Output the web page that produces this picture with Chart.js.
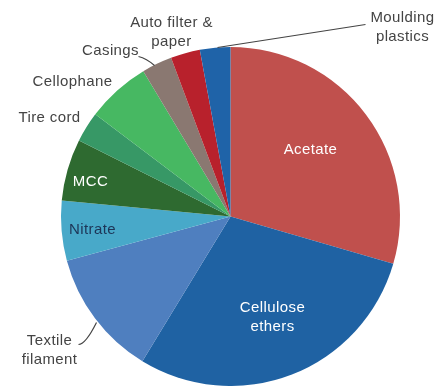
<!DOCTYPE html>
<html>
<head>
<meta charset="utf-8">
<script src="https://cdn.jsdelivr.net/npm/chart.js@4"></script>
<style>
  html, body { margin: 0; padding: 0; background: #fff; }
</style>
</head>
<body>
<canvas id="pie" width="435" height="386"></canvas>
<script>
// slices, clockwise from 12 o'clock (shares in %)
const categories = ['Acetate', 'Cellulose ethers', 'Textile filament', 'Nitrate', 'MCC',
  'Tire cord', 'Cellophane', 'Casings', 'Auto filter & paper', 'Moulding plastics'];
const shares = [29.5, 29.2, 12.1, 5.7, 5.9, 2.9, 6.1, 2.9, 2.8, 2.9];
const sliceColors = ['#c0504d', '#1f62a3', '#4f7fbf', '#48a9c9', '#2e6a30',
  '#379866', '#47b862', '#8a7871', '#b8212c', '#1f63a8'];

// label text lines, offset (dx, dy) from the pie centre, colour
const labels = [
  { lines: ['Acetate'], dx: 80, dy: -67, color: '#fff' },
  { lines: ['Cellulose', 'ethers'], dx: 42, dy: 91, color: '#fff' },
  { lines: ['Textile', 'filament'], dx: -181, dy: 124, color: '#444' },
  { lines: ['Nitrate'], dx: -138, dy: 13, color: '#1d3557' },
  { lines: ['MCC'], dx: -140, dy: -35, color: '#fff' },
  { lines: ['Tire cord'], dx: -181, dy: -99, color: '#444' },
  { lines: ['Cellophane'], dx: -158, dy: -135, color: '#444' },
  { lines: ['Casings'], dx: -120, dy: -166, color: '#444' },
  { lines: ['Auto filter &', 'paper'], dx: -59, dy: -194, color: '#444' },
  { lines: ['Moulding', 'plastics'], dx: 172, dy: -199, color: '#444' }
];

// leader lines (points relative to pie centre)
const leaders = [
  [[-13, -169], [135, -192]],
  [[-92, -160], [-84, -158], [-76, -151]],
  [[-152, 128], [-145, 128], [-134, 106]]
];

const labelPlugin = {
  id: 'labels',
  afterDatasetsDraw(chart) {
    const ctx = chart.ctx;
    const arc = chart.getDatasetMeta(0).data[0];
    const cx = arc.x, cy = arc.y;
    ctx.save();
    ctx.font = '15px "Liberation Sans", Arial, sans-serif';
    ctx.letterSpacing = '0.4px';
    ctx.textAlign = 'center';
    ctx.textBaseline = 'middle';
    labels.forEach(l => {
      ctx.fillStyle = l.color;
      l.lines.forEach((t, i) => ctx.fillText(t, cx + l.dx, cy + l.dy + i * 19));
    });
    ctx.strokeStyle = '#444';
    ctx.lineWidth = 1.2;
    leaders.forEach(pts => {
      ctx.beginPath();
      ctx.moveTo(cx + pts[0][0], cy + pts[0][1]);
      if (pts.length === 3) {
        ctx.quadraticCurveTo(cx + pts[1][0], cy + pts[1][1], cx + pts[2][0], cy + pts[2][1]);
      } else {
        ctx.lineTo(cx + pts[1][0], cy + pts[1][1]);
      }
      ctx.stroke();
    });
    ctx.restore();
  }
};

new Chart(document.getElementById('pie'), {
  type: 'pie',
  data: {
    labels: categories,
    datasets: [{
      data: shares,
      backgroundColor: sliceColors,
      borderWidth: 0
    }]
  },
  options: {
    responsive: false,
    animation: false,
    layout: { padding: { top: 47, bottom: 0, left: 61, right: 35 } },
    plugins: {
      legend: { display: false },
      tooltip: { enabled: false }
    }
  },
  plugins: [labelPlugin]
});
</script>
</body>
</html>
